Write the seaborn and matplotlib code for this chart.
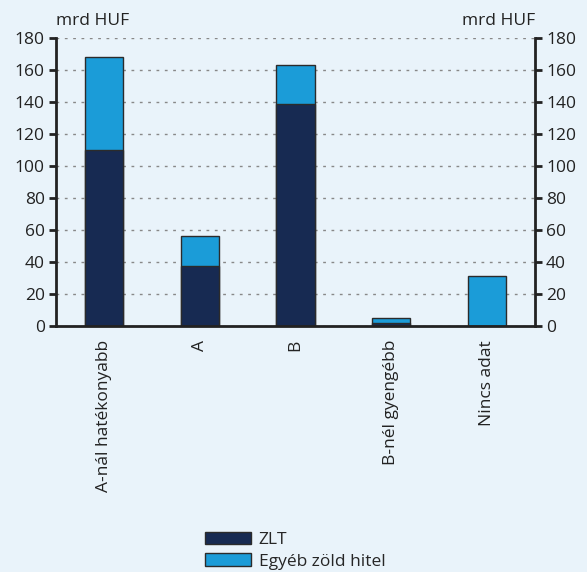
import matplotlib
matplotlib.use("Agg")
import matplotlib.pyplot as plt
import matplotlib.patches as mpatches
import numpy as np
import pandas as pd
import seaborn as sns

categories = ["A-nál hatékonyabb", "A", "B", "B-nél gyengébb", "Nincs adat"]
zlt = [110, 37.5, 139, 1.7, 0]
egyeb = [58, 18.5, 24, 3.1, 31]
series_names = ["ZLT", "Egyéb zöld hitel"]
y_ticks = [0, 20, 40, 60, 80, 100, 120, 140, 160, 180]

bg = "#E9F3FA"
dark = "#172A52"
light = "#1B9CD8"
edge = "#2B2B2B"
ink = "#222222"

sns.set_style("white")
plt.rcParams["font.family"] = ["Open Sans", "DejaVu Sans"]
plt.rcParams["font.size"] = 12.5

df = pd.DataFrame({"cat": categories, "zlt": zlt, "egyeb": egyeb})
df["total"] = df["zlt"] + df["egyeb"]

fig = plt.figure(figsize=(5.87, 5.72), dpi=100, facecolor=bg)
ax = fig.add_axes([0.0954, 0.430, 0.816, 0.5036])
ax.set_facecolor(bg)

# stacked: draw the totals first, then ZLT on top of them
sns.barplot(data=df, x="cat", y="total", color=light, saturation=1, width=0.4,
            edgecolor=edge, linewidth=1, ax=ax)
sns.barplot(data=df, x="cat", y="zlt", color=dark, saturation=1, width=0.4,
            edgecolor=edge, linewidth=1, ax=ax)

ax.set_xlim(-0.5, len(categories) - 0.5)
ax.set_ylim(0, 180)
ax.set_yticks(y_ticks)
ax.set_xlabel("")
ax.set_ylabel("")
ax.yaxis.grid(True, linestyle=(0, (2, 4)), color="#888888", linewidth=1)
ax.set_axisbelow(True)
for s in ["top", "right"]:
    ax.spines[s].set_visible(False)
for s in ["left", "bottom"]:
    ax.spines[s].set_color(ink)
    ax.spines[s].set_linewidth(2)

ax.set_xticks(np.arange(len(categories)))
ax.set_xticklabels(categories, rotation=90, va="top", ha="center", color=ink)
ax.set_xticks(np.arange(len(categories) + 1) - 0.5, minor=True)
ax.tick_params(axis="x", which="major", length=0, pad=10)
ax.tick_params(axis="x", which="minor", length=6, width=2, color=ink, direction="out")
ax.tick_params(axis="y", length=5, width=2, color=ink, direction="out",
               labelcolor=ink, pad=3)

ax2 = ax.twinx()
ax2.set_ylim(0, 180)
ax2.set_yticks(y_ticks)
for s in ["top", "left", "bottom"]:
    ax2.spines[s].set_visible(False)
ax2.spines["right"].set_color(ink)
ax2.spines["right"].set_linewidth(2)
ax2.tick_params(axis="y", length=5, width=2, color=ink, direction="out",
                labelcolor=ink, pad=3)

ax.text(0.0, 1.03, "mrd HUF", transform=ax.transAxes, ha="left", va="bottom", color=ink)
ax.text(1.0, 1.03, "mrd HUF", transform=ax.transAxes, ha="right", va="bottom", color=ink)

handles = [mpatches.Patch(facecolor=dark, edgecolor=edge, label=series_names[0]),
           mpatches.Patch(facecolor=light, edgecolor=edge, label=series_names[1])]
fig.legend(handles=handles, loc="upper left", bbox_to_anchor=(205 / 587, 1 - 532 / 572),
           frameon=False, borderpad=0, borderaxespad=0, handlelength=2.65,
           handleheight=0.7, handletextpad=0.45, labelspacing=0.3, fontsize=12.5)

fig.savefig("out.png", dpi=100, facecolor=bg)
